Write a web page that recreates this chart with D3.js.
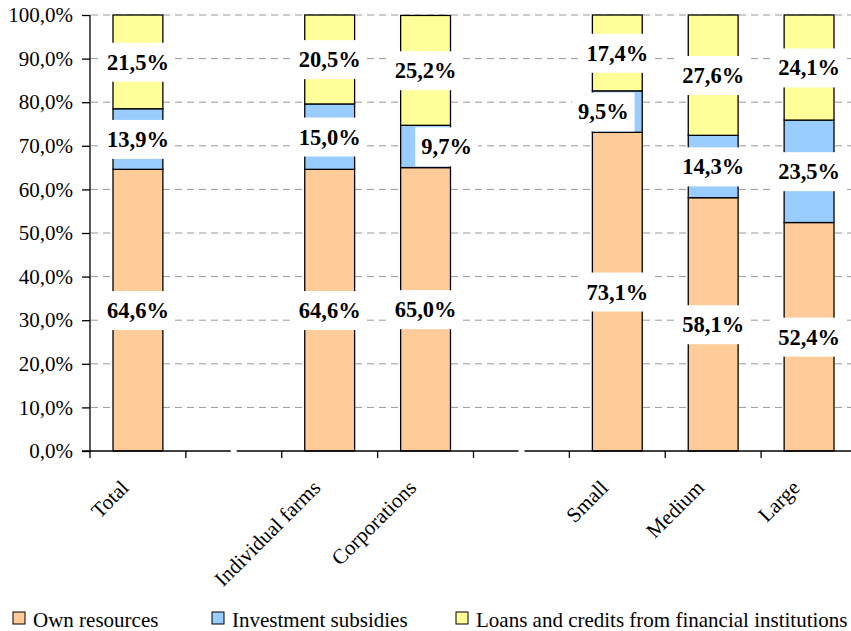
<!DOCTYPE html>
<html><head><meta charset="utf-8">
<script src="https://cdn.jsdelivr.net/npm/d3@7"></script>
<style>body{margin:0;background:#fff}svg{display:block}</style>
</head><body>
<svg id="c" width="851" height="631"></svg>
<script>
// ---- data ----
const categories = ["Total", "", "Individual farms", "Corporations", " ", "Small", "Medium", "Large"];
const ownResources = [64.6, null, 64.6, 65.0, null, 73.1, 58.1, 52.4];
const investmentSubsidies = [13.9, null, 15.0, 9.7, null, 9.5, 14.3, 23.5];
const loansCredits = [21.5, null, 20.5, 25.2, null, 17.4, 27.6, 24.1];
const seriesNames = ["Own resources", "Investment subsidies", "Loans and credits from financial institutions"];
const yTicks = [0, 10, 20, 30, 40, 50, 60, 70, 80, 90, 100];

// ---- styles / layout ----
const colors = ["#FFCC99", "#99CCFF", "#FFFF99"];
const fontFam = "'Liberation Serif','Times New Roman',serif";
// manual label shifts (as Excel did to avoid overlaps) for investment labels
const labelDx = {"Corporations|1": 21, "Small|1": -14};

const svg = d3.select("#c");
const x = d3.scaleBand().domain(categories).range([90, 857]).paddingInner(0.48).paddingOuter(0.24);
const y = d3.scaleLinear().domain([0, 100]).range([451, 15]);
const loc = d3.formatLocale({decimal: ",", thousands: ".", grouping: [3], currency: ["", ""]});
const fmt1 = loc.format(".1f");

// gridlines
svg.append("g").selectAll("line").data(yTicks.filter(d => d > 0)).join("line")
  .attr("x1", 91).attr("x2", 851).attr("y1", d => y(d)).attr("y2", d => y(d))
  .attr("stroke", "#999").attr("stroke-width", 1).attr("stroke-dasharray", "7,5");

// stacked data
const series = [ownResources, investmentSubsidies, loansCredits];
const rows = categories.map((c, i) => ({cat: c, v: series.map(s => s[i])}));
const stackG = svg.append("g");
rows.forEach(r => {
  if (r.v[0] == null) return;
  let base = 0;
  r.v.forEach((v, k) => {
    const top = Math.min(100, base + v);
    stackG.append("rect")
      .attr("x", x(r.cat)).attr("width", x.bandwidth())
      .attr("y", y(top)).attr("height", y(base) - y(top))
      .attr("fill", colors[k]).attr("stroke", "#000").attr("stroke-width", 1.3);
    r["mid" + k] = base + v / 2;
    base = top;
  });
});

// y axis
const yAxis = d3.axisLeft(y).tickValues(yTicks).tickSize(8).tickFormat(d => fmt1(d) + "%");
const ya = svg.append("g").attr("transform", "translate(90,0)").call(yAxis);
ya.select(".domain").attr("stroke", "#000").attr("stroke-width", 1.3).attr("d", "M0,15V451");
ya.selectAll(".tick line").attr("stroke", "#000").attr("stroke-width", 1.3);
ya.selectAll(".tick text").attr("font-family", fontFam).attr("font-size", 21).attr("fill", "#000").attr("x", -17);

// x axis line with ticks at band boundaries
const step = x.step();
const x0 = x.range()[0];
svg.append("line").attr("x1", 82).attr("x2", 851).attr("y1", 451).attr("y2", 451)
  .attr("stroke", "#000").attr("stroke-width", 1.3);
svg.append("g").selectAll("line").data(d3.range(categories.length)).join("line")
  .attr("x1", i => x0 + i * step).attr("x2", i => x0 + i * step)
  .attr("y1", 451).attr("y2", 458).attr("stroke", "#000").attr("stroke-width", 1.3);
// breaks in axis at blank categories
categories.forEach(c => {
  if (c.trim() === "") {
    svg.append("rect").attr("x", x(c) + x.bandwidth() / 2 - 3).attr("width", 6)
      .attr("y", 448).attr("height", 6).attr("fill", "#fff");
  }
});

// category labels
svg.append("g").selectAll("text").data(categories.filter(c => c.trim() !== "")).join("text")
  .attr("transform", c => `translate(${x(c) + x.bandwidth() / 2 - 8},${489}) rotate(-45)`)
  .attr("text-anchor", "end").attr("font-family", fontFam).attr("font-size", 21).attr("fill", "#000")
  .text(c => c);

// value labels with white boxes
const labG = svg.append("g");
rows.forEach(r => {
  if (r.v[0] == null) return;
  r.v.forEach((v, k) => {
    const cx = x(r.cat) + x.bandwidth() / 2 + (labelDx[r.cat + "|" + k] || 0);
    const cy = y(r["mid" + k]);
    const g = labG.append("g");
    const t = g.append("text").attr("x", cx).attr("y", cy).attr("dy", "0.35em")
      .attr("text-anchor", "middle").attr("font-family", fontFam).attr("font-weight", "bold")
      .attr("font-size", 22.5).attr("fill", "#000").text(fmt1(v) + "%");
    const bb = t.node().getBBox();
    g.insert("rect", "text").attr("x", bb.x - 6).attr("y", bb.y - 7)
      .attr("width", bb.width + 12).attr("height", bb.height + 14).attr("fill", "#fff");
  });
});

// legend
const legX = [13, 212, 456];
const lg = svg.append("g");
seriesNames.forEach((n, k) => {
  lg.append("rect").attr("x", legX[k]).attr("y", 612).attr("width", 12).attr("height", 12)
    .attr("fill", colors[k]).attr("stroke", "#000").attr("stroke-width", 1);
  lg.append("text").attr("x", legX[k] + 20).attr("y", 627).attr("font-family", fontFam)
    .attr("font-size", 21).attr("fill", "#000").text(n);
});
</script>
</body></html>
